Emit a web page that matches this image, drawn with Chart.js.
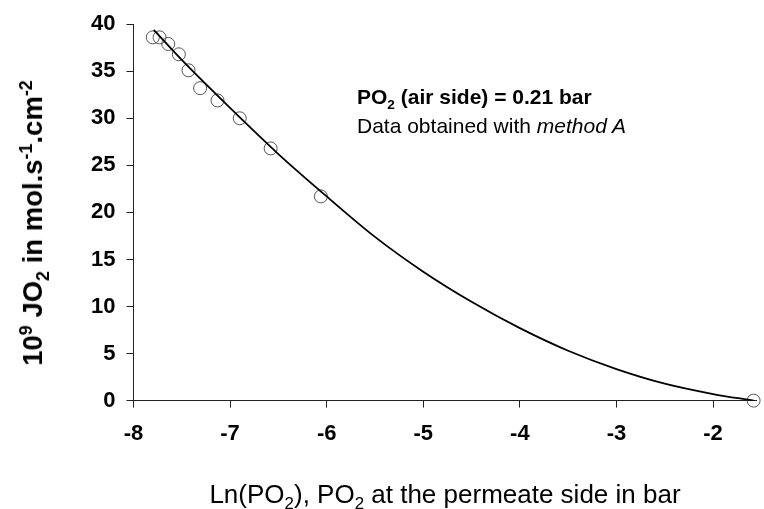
<!DOCTYPE html>
<html>
<head>
<meta charset="utf-8">
<script src="https://cdn.jsdelivr.net/npm/chart.js@4.4.1/dist/chart.umd.min.js"></script>
<style>
  html, body { margin: 0; padding: 0; background: #fff; }
  #wrap { position: relative; width: 764px; height: 509px; font-family: "Liberation Sans", Arial, sans-serif; color: #000; }
  #chart { position: absolute; left: 0; top: 0; }
  .lbl { position: absolute; white-space: nowrap; }
  sub, sup { font-size: 65%; line-height: 0; }
  #ytitle { left: 33px; top: 223px; font-size: 27.5px; font-weight: bold; transform: translate(-50%, -50%) rotate(-90deg); }
  #xtitle { left: 445px; top: 494px; font-size: 26px; transform: translate(-50%, -50%); }
  #note { left: 357px; top: 82px; font-size: 21px; line-height: 29px; }
</style>
</head>
<body>
<div id="wrap">
  <canvas id="chart" width="764" height="509"></canvas>
  <div class="lbl" id="ytitle">10<sup>9</sup> JO<sub>2</sub> in mol.s<sup>-1</sup>.cm<sup>-2</sup></div>
  <div class="lbl" id="xtitle">Ln(PO<sub>2</sub>), PO<sub>2</sub> at the permeate side in bar</div>
  <div class="lbl" id="note"><b>PO<sub>2</sub> (air side) = 0.21 bar</b><br>Data obtained with <i>method A</i></div>
</div>
<script>
// measured points (open circles)
const lnPO2 = [-7.80, -7.73, -7.64, -7.53, -7.43, -7.31, -7.13, -6.90, -6.58, -6.06, -1.58];
const fluxJO2 = [38.6, 38.6, 37.9, 36.8, 35.1, 33.2, 31.9, 30.0, 26.8, 21.7, 0];

// fitted curve
const fitX = [-7.79, -7.5, -7, -6.5, -6, -5.5, -5, -4.5, -4, -3.5, -3, -2.5, -2, -1.58];
const fitY = [39.4, 36.2, 31.1, 26.2, 21.7, 17.4, 13.7, 10.5, 7.7, 5.3, 3.35, 1.8, 0.7, 0];

const xTicks = [-8, -7, -6, -5, -4, -3, -2];
const yTicks = [0, 5, 10, 15, 20, 25, 30, 35, 40];

const tickFont = { family: '"Liberation Sans", Arial, sans-serif', size: 22, weight: 'bold' };

const ctx = document.getElementById('chart').getContext('2d');
new Chart(ctx, {
  type: 'scatter',
  data: {
    datasets: [
      {
        label: 'fit',
        data: fitX.map((x, i) => ({ x, y: fitY[i] })),
        showLine: true,
        borderColor: '#000',
        borderWidth: 1.8,
        pointRadius: 0,
        cubicInterpolationMode: 'monotone',
        order: 0
      },
      {
        label: 'data',
        data: lnPO2.map((x, i) => ({ x, y: fluxJO2[i] })),
        showLine: false,
        pointRadius: 6.5,
        pointBorderWidth: 1,
        pointBorderColor: '#555',
        pointBackgroundColor: 'rgba(0,0,0,0)',
        clip: false,
        order: 1
      }
    ]
  },
  options: {
    responsive: false,
    animation: false,
    layout: { padding: { left: 80, right: 0, top: 18, bottom: 49 } },
    plugins: { legend: { display: false }, tooltip: { enabled: false } },
    scales: {
      x: {
        type: 'linear',
        min: -8,
        max: -1.55,
        afterBuildTicks: scale => { scale.ticks = xTicks.map(v => ({ value: v })); },
        border: { color: '#222', width: 1 },
        grid: { drawOnChartArea: false, tickLength: 7, color: '#222' },
        ticks: { font: tickFont, color: '#000', padding: 13, maxRotation: 0 }
      },
      y: {
        min: 0,
        max: 40,
        afterBuildTicks: scale => { scale.ticks = yTicks.map(v => ({ value: v })); },
        border: { color: '#222', width: 1 },
        grid: { drawOnChartArea: false, tickLength: 7, color: '#222' },
        ticks: { font: tickFont, color: '#000', padding: 11 }
      }
    }
  }
});
</script>
</body>
</html>
